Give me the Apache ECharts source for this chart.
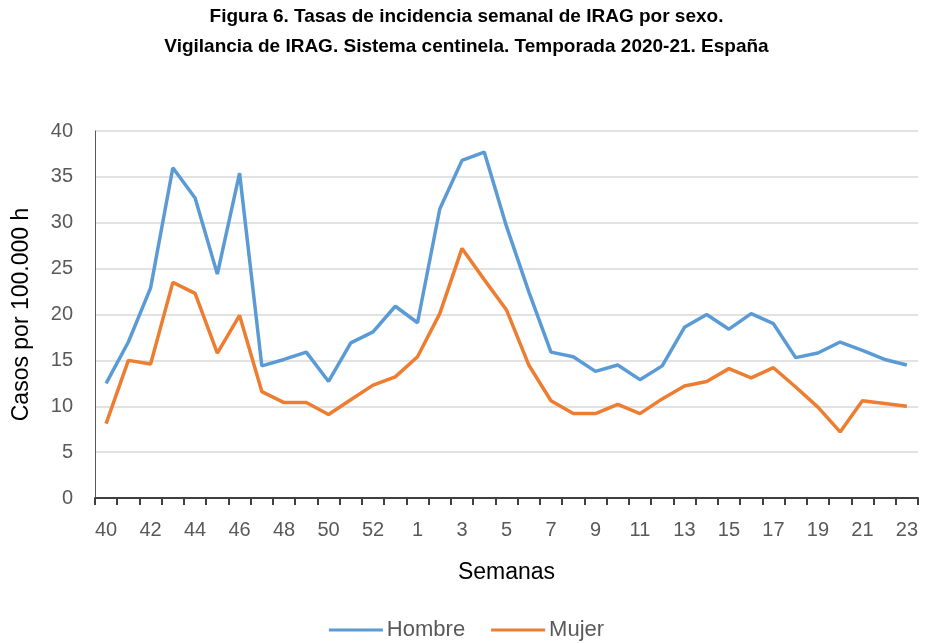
<!DOCTYPE html>
<html><head><meta charset="utf-8">
<script src="https://cdn.jsdelivr.net/npm/echarts@6/dist/echarts.min.js"></script>
<style>html,body{margin:0;padding:0;background:#fff}#c{width:933px;height:643px}</style>
</head><body><div id="c"></div>
<script>
const weeks = ['40','41','42','43','44','45','46','47','48','49','50','51','52','53','1','2','3','4','5','6','7','8','9','10','11','12','13','14','15','16','17','18','19','20','21','22','23'];
const hombre = [12.5,17.0,22.9,36.0,32.7,24.4,35.4,14.4,15.1,15.9,12.7,16.9,18.1,20.9,19.1,31.5,36.8,37.7,29.6,22.5,15.9,15.4,13.8,14.5,12.9,14.4,18.6,20.0,18.4,20.1,19.0,15.3,15.8,17.0,16.1,15.1,14.5];
const mujer = [8.1,15.0,14.6,23.5,22.3,15.8,19.9,11.6,10.4,10.4,9.1,10.7,12.3,13.2,15.4,20.1,27.2,23.8,20.5,14.5,10.6,9.2,9.2,10.2,9.2,10.8,12.2,12.7,14.1,13.1,14.2,12.1,9.9,7.2,10.6,10.3,10.0];
const yTicks = {min:0, max:40, interval:5};
const titleLines = ['Figura 6. Tasas de incidencia semanal de IRAG por sexo.','Vigilancia de IRAG. Sistema centinela. Temporada 2020-21. España'];

const chart = echarts.init(document.getElementById('c'));
const font = 'Liberation Sans';
chart.setOption({
  animation:false,
  title:{text:titleLines.join('\n'), left:'center', top:-3,
    textStyle:{fontFamily:font, fontWeight:'bold', fontSize:19, lineHeight:30, color:'#000'}},
  legend:{bottom:-3, left:'center', itemWidth:54, itemHeight:3, itemGap:26, icon:'rect',
    textStyle:{fontFamily:font, fontSize:22, color:'#595959', padding:[0,0,0,-1]}},
  grid:{left:95, right:15, top:131, bottom:145},
  xAxis:{type:'category', data:weeks, boundaryGap:true,
    name:'Semanas', nameLocation:'middle', nameGap:63,
    nameTextStyle:{fontFamily:font, fontSize:23, color:'#000'},
    axisLine:{lineStyle:{color:'#404040', width:2}},
    axisTick:{show:true, interval:0, length:7, lineStyle:{color:'#404040', width:2}},
    axisLabel:{interval:1, fontFamily:font, fontSize:20, color:'#595959', margin:22}},
  yAxis:{type:'value', min:yTicks.min, max:yTicks.max, interval:yTicks.interval,
    name:'Casos por 100.000 h', nameLocation:'middle', nameGap:62, nameRotate:90,
    nameTextStyle:{fontFamily:font, fontSize:23, color:'#000'},
    axisLine:{show:true, lineStyle:{color:'#595959', width:1}},
    axisTick:{show:false},
    axisLabel:{fontFamily:font, fontSize:20, color:'#595959', margin:22},
    splitLine:{lineStyle:{color:'#d9d9d9', width:1.5}}},
  series:[
    {name:'Hombre', type:'line', data:hombre, symbol:'none', lineStyle:{color:'#5b9bd5', width:3.5}, itemStyle:{color:'#5b9bd5'}},
    {name:'Mujer', type:'line', data:mujer, symbol:'none', lineStyle:{color:'#ed7d31', width:3.5}, itemStyle:{color:'#ed7d31'}}
  ]
});
</script></body></html>
